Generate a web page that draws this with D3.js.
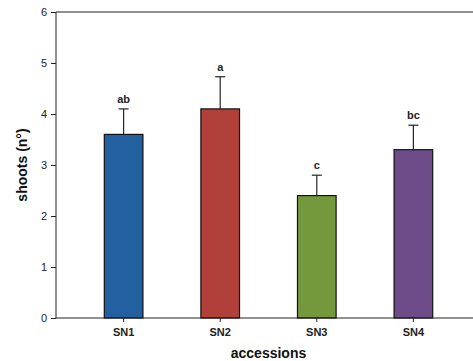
<!DOCTYPE html>
<html><head><meta charset="utf-8">
<script src="https://cdn.jsdelivr.net/npm/d3@7"></script>
<style>html,body{margin:0;background:#fff;overflow:hidden;width:473px;height:361px}svg{display:block;overflow:hidden}text{font-family:Arial,"Liberation Sans",sans-serif}</style>
</head><body><svg id="c" width="473" height="361" viewBox="0 0 473 361"></svg>
<script>
const categories = ["SN1","SN2","SN3","SN4"];
const values = [3.6, 4.1, 2.4, 3.3];
const errors = [0.5, 0.63, 0.4, 0.48];
const letters = ["ab","a","c","bc"];
const colors = ["#22609f","#b1403b","#74993d","#6d4c89"];
const yTicks = [0,1,2,3,4,5,6];

const svg = d3.select("#c");
const L = 56, R = 481, T = 12, B = 318;
const x = d3.scaleBand().domain(categories).range([L, R]).paddingInner(0.6).paddingOuter(0.5);
const y = d3.scaleLinear().domain([0,6]).range([B, T]);

// top frame line
svg.append("path").attr("d",`M${L},${T}H473`).attr("stroke","#222").attr("stroke-width",1).attr("fill","none");

// bars
const g = svg.append("g");
g.selectAll("rect").data(categories).join("rect")
  .attr("x", d => x(d)).attr("width", x.bandwidth())
  .attr("y", (d,i) => y(values[i])).attr("height", (d,i) => y(0) - y(values[i]))
  .attr("fill", (d,i) => colors[i]).attr("stroke","#111").attr("stroke-width",1.2);

// error bars
const eb = svg.append("g").attr("stroke","#222").attr("stroke-width",1.2);
categories.forEach((d,i) => {
  const cx = x(d) + x.bandwidth()/2;
  eb.append("line").attr("x1",cx).attr("x2",cx).attr("y1",y(values[i])).attr("y2",y(values[i]+errors[i]));
  eb.append("line").attr("x1",cx-5).attr("x2",cx+5).attr("y1",y(values[i]+errors[i])).attr("y2",y(values[i]+errors[i]));
  svg.append("text").attr("x",cx).attr("y",y(values[i]+errors[i]) - 6)
    .attr("text-anchor","middle").attr("font-size",11).attr("font-weight","bold").attr("fill","#222").text(letters[i]);
});

// axes
const ya = svg.append("g").attr("transform",`translate(${L},0)`)
  .call(d3.axisLeft(y).tickValues(yTicks).tickSize(5).tickPadding(4).tickFormat(d3.format("d")));
ya.select(".domain").attr("stroke","#222").attr("d",`M0,${B}V${T}`);
ya.selectAll(".tick line").attr("stroke","#222");
ya.selectAll("text").attr("font-size",11).attr("fill","#222").style("font-family","Arial, 'Liberation Sans', sans-serif");

const xa = svg.append("g").attr("transform",`translate(0,${B})`)
  .call(d3.axisBottom(x).tickSize(4).tickPadding(6));
xa.select(".domain").attr("stroke","#222").attr("d",`M${L},0H473`);
xa.selectAll(".tick line").attr("stroke","#222");
xa.selectAll("text").attr("font-size",11).attr("font-weight","bold").attr("fill","#222").style("font-family","Arial, 'Liberation Sans', sans-serif");

// titles
svg.append("text").attr("x",(L+R)/2).attr("y",358).attr("text-anchor","middle")
  .attr("font-size",14).attr("font-weight","bold").attr("fill","#111").text("accessions");
svg.append("text").attr("transform",`translate(27,${(T+B)/2}) rotate(-90)`).attr("text-anchor","middle")
  .attr("font-size",14).attr("font-weight","bold").attr("fill","#111").text("shoots (n°)");
</script></body></html>
